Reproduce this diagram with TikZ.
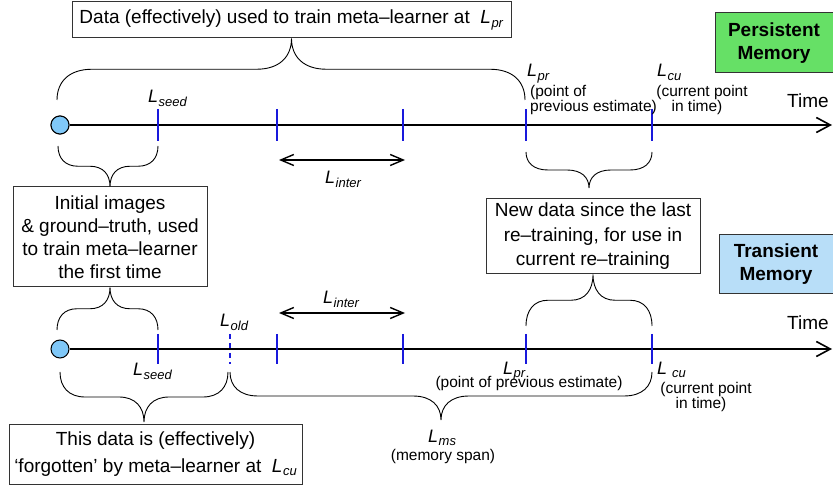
\documentclass[tikz,border=0pt]{standalone}
\usepackage{fontspec}
\setmainfont{Liberation Sans}
\usetikzlibrary{arrows.meta,calc}
\definecolor{tickblue}{RGB}{25,25,220}
\definecolor{pgreen}{RGB}{102,224,102}
\definecolor{tblue}{RGB}{184,222,248}
\definecolor{cfill}{RGB}{128,200,248}
\newcommand{\Lsb}[2][0.5pt]{\textit{L}\kern#1\raisebox{-0.35ex}{\fontsize{13}{14}\selectfont\textit{#2}}}
\newcommand{\curlybr}[4]{%
 \draw[brc] let \p1=(#1), \p2=(#2), \p3=(#3), \n1={0.5*(\y3-\y1)} in
 (\p1) .. controls (\x1,{\y1+0.6*\n1}) and ({\x1+0.35*#4},{\y1+\n1}) .. ({\x1+#4},{\y1+\n1})
 -- ({\x3-#4},{\y1+\n1}) .. controls ({\x3-0.35*#4},{\y1+\n1}) and (\x3,{\y1+1.4*\n1}) .. (\p3)
 .. controls (\x3,{\y1+1.4*\n1}) and ({\x3+0.35*#4},{\y1+\n1}) .. ({\x3+#4},{\y1+\n1})
 -- ({\x2-#4},{\y1+\n1}) .. controls ({\x2-0.35*#4},{\y1+\n1}) and (\x2,{\y1+0.6*\n1}) .. (\p2);}
\begin{document}
\begin{tikzpicture}[x=1pt,y=-1pt,font=\fontsize{19}{23}\selectfont,
  tl/.style={line width=1.6pt,-{Straight Barb[length=14pt,width=15pt]}},
  dbl/.style={line width=1.4pt,{Straight Barb[length=13pt,width=11pt]}-{Straight Barb[length=13pt,width=11pt]}},
  tick/.style={draw=tickblue,line width=1.8pt},
  brc/.style={line width=0.9pt},
  box/.style={draw=black!80,line width=1pt,fill=white,inner sep=0pt,align=center},
  membox/.style={draw=black!80,line width=1pt,inner sep=0pt,align=center,font=\fontsize{19}{23}\selectfont\bfseries},
  circ/.style={circle,draw=black,fill=cfill,line width=1pt,minimum size=18pt,inner sep=0pt},
  lab/.style={inner sep=0pt,anchor=base west},
  Lf/.style={font=\fontsize{18}{20}\selectfont},
  small/.style={inner sep=0pt,font=\fontsize{15.5}{16}\selectfont}]
\useasboundingbox (0,0) rectangle (833,486);

% ---------- persistent memory (top) ----------
\node[circ] (c1) at (60,125) {};
\coordinate (e1) at (832,125);
\draw[tl] (c1) -- (e1);
\foreach \xx in {158,277,403,526,652} \draw[tick] (\xx,109) -- (\xx,141);
\node[circ] at (60,125) {};

\node[box,minimum width=439pt,minimum height=36pt] (topbox) at (291.5,20)
  {Data (effectively) used to train meta–learner at \ \Lsb{pr}};
\coordinate (b1s) at (57,100);
\coordinate (b1e) at (525,100);
\curlybr{b1s}{b1e}{topbox.south}{35pt}

\node[membox,fill=pgreen,minimum width=118pt,minimum height=60pt] (pm) at (774,43)
  {Persistent\\Memory};

\node[lab,Lf] (ls1) at (148,103) {\Lsb{seed}};
\node[lab,Lf] (lp1) at (527,77) {\Lsb{pr}};
\node[small,anchor=base west] (pp1) at (530,97) {(point of};
\node[small,anchor=base west] (pp2) at (530,112) {previous estimate)};
\node[lab,Lf] (lc1) at (657,77) {\Lsb{cu}};
\node[small,anchor=base] (cp1) at (702,97) {(current point};
\node[small,anchor=base] (cp2) at (697,112) {in time)};
\node[lab] (time1) at (787,108) {Time};

\coordinate (ia1) at (279,160);
\coordinate (ia2) at (405,160);
\draw[dbl] (ia1) -- (ia2);
\node[lab,Lf] (li1) at (325,184) {\Lsb{inter}};

\node[box,minimum width=194pt,minimum height=100pt] (initbox) at (110,237)
  {Initial images\\\& ground–truth, used\\to train meta–learner\\the first time};
\coordinate (b2s) at (58,146);
\coordinate (b2e) at (158,146);
\curlybr{b2s}{b2e}{initbox.north}{20pt}
\coordinate (b3s) at (57,330);
\coordinate (b3e) at (158,330);
\curlybr{b3s}{b3e}{initbox.south}{20pt}

\node[box,minimum width=214pt,minimum height=75pt,font=\fontsize{19}{24.5}\selectfont] (newbox) at (593,236.5)
  {New data since the last\\re–training, for use in\\current re–training};
\coordinate (b4s) at (526,152);
\coordinate (b4e) at (652,152);
\coordinate (b4t) at (589,188);
\curlybr{b4s}{b4e}{b4t}{22pt}
\coordinate (b5s) at (526,326);
\coordinate (b5e) at (652,326);
\curlybr{b5s}{b5e}{newbox.south}{22pt}

% ---------- transient memory (bottom) ----------
\node[membox,fill=tblue,minimum width=114pt,minimum height=59pt] (tm) at (776,264.5)
  {Transient\\Memory};

\node[circ] (c2) at (60,349) {};
\coordinate (e2) at (832,349);
\draw[tl] (c2) -- (e2);
\foreach \xx in {158,277,403,526,652} \draw[tick] (\xx,334) -- (\xx,364);
\draw[tick,dash pattern=on 5pt off 4.5pt] (230,334) -- (230,364);

\coordinate (ib1) at (279,313);
\coordinate (ib2) at (405,313);
\draw[dbl] (ib1) -- (ib2);
\node[lab,Lf] (li2) at (323,304) {\Lsb{inter}};
\node[lab,Lf] (lo2) at (220,327) {\Lsb{old}};
\node[lab] (time2) at (787,330) {Time};

\node[lab,Lf] (ls2) at (133,376) {\Lsb{seed}};
\node[lab,Lf] (lp2) at (503,374) {\Lsb{pr}};
\node[small,anchor=base] (pp3) at (529,388) {(point of previous estimate)};
\node[lab,Lf] (lc2) at (657,374) {\Lsb[5pt]{cu}};
\node[small,anchor=base] (cp3) at (706,393) {(current point};
\node[small,anchor=base] (cp4) at (701,409) {in time)};

\node[box,minimum width=293pt,minimum height=60pt,font=\fontsize{19}{27}\selectfont] (forgbox) at (155.5,454)
  {This data is (effectively)\\‘forgotten’ by meta–learner at \ \Lsb{cu}};
\coordinate (b6s) at (60,372);
\coordinate (b6e) at (228,372);
\coordinate (b6t) at (144,422);
\curlybr{b6s}{b6e}{b6t}{25pt}

\coordinate (b7s) at (230,372);
\coordinate (b7e) at (652,372);
\coordinate (b7t) at (441,420);
\curlybr{b7s}{b7e}{b7t}{28pt}
\node[lab,Lf] (lm) at (428,442) {\Lsb{ms}};
\node[small,anchor=base] (msp) at (443,460) {(memory span)};
\end{tikzpicture}
\end{document}
